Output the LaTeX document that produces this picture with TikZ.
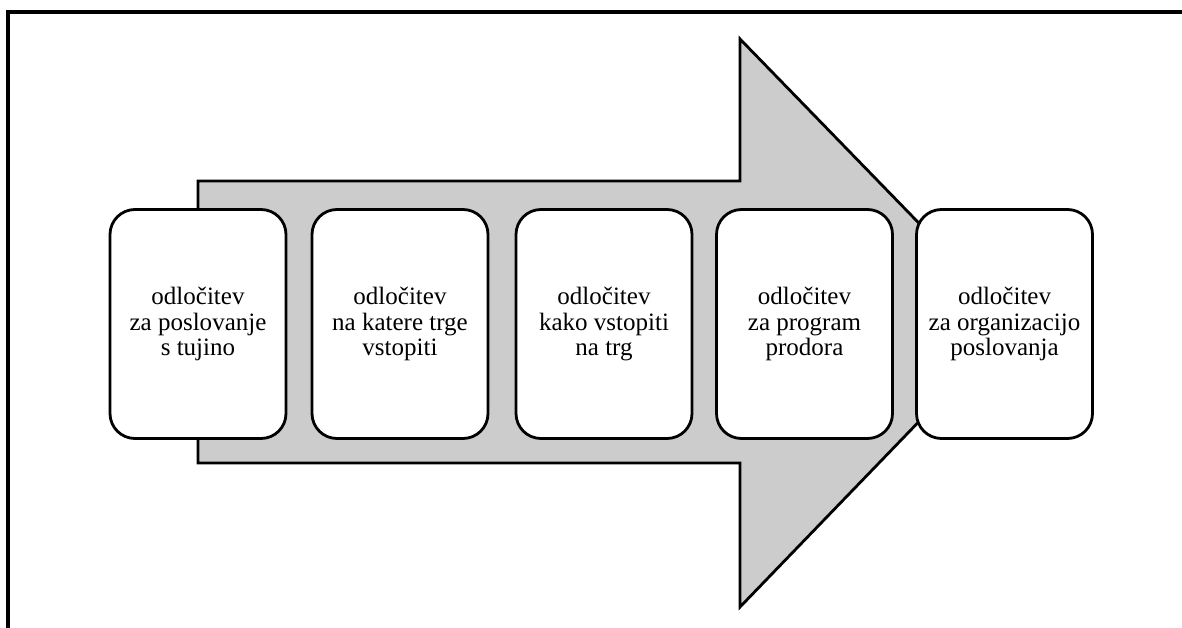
\documentclass[tikz,border=0pt]{standalone}
\usepackage{fontspec}
\setmainfont{Liberation Serif}
\definecolor{arrowgray}{RGB}{204,204,204}
\begin{document}
\begin{tikzpicture}[x=1pt,y=-1pt,
  decbox/.style={draw=black, line width=2.8pt, fill=white, rounded corners=25pt,
    minimum width=176pt, minimum height=229pt, inner sep=0pt, align=center,
    font=\fontsize{25}{25.5}\selectfont},
  bigarrow/.style={draw=black, line width=2.8pt, fill=arrowgray, line join=miter},
  frameline/.style={draw=black, line width=3.2pt}]
\useasboundingbox (0,0) rectangle (1182,628);
% frame (top and left)
\draw[frameline] (8,628) -- (8,12) -- (1182,12);
% big arrow
\draw[bigarrow] (198,181) -- (740,181) -- (740,39) -- (1015,322) -- (740,607) -- (740,463) -- (198,463) -- cycle;
% boxes
\node[decbox] (b1) at (198,324) {odločitev\\za poslovanje\\s tujino};
\node[decbox] (b2) at (400,324) {odločitev\\na katere trge\\vstopiti};
\node[decbox] (b3) at (604,324) {odločitev\\kako vstopiti\\na trg};
\node[decbox] (b4) at (804.5,324) {odločitev\\za program\\prodora};
\node[decbox] (b5) at (1004.5,324) {odločitev\\za organizacijo\\poslovanja};
\end{tikzpicture}
\end{document}
